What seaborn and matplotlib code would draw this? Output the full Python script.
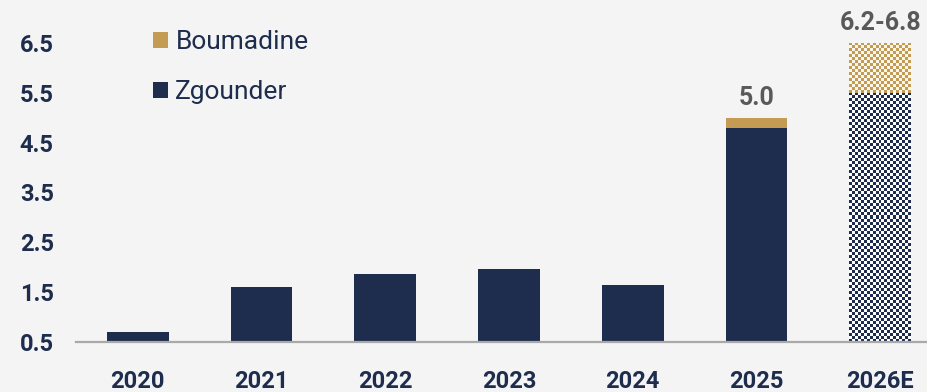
import numpy as np
import pandas as pd
import matplotlib
matplotlib.use("Agg")
import matplotlib.pyplot as plt
from matplotlib.colors import to_rgb
from matplotlib.patches import Patch
import seaborn as sns

# Silver production by mine (Moz)
years = ["2020", "2021", "2022", "2023", "2024", "2025", "2026E"]
zgounder = [0.71, 1.61, 1.87, 1.96, 1.64, 4.8, 5.5]
boumadine = [0.0, 0.0, 0.0, 0.0, 0.0, 0.2, 1.0]
bar_labels = ["", "", "", "", "", "5.0", "6.2-6.8"]
estimate = [False, False, False, False, False, False, True]
y_ticks = [0.5, 1.5, 2.5, 3.5, 4.5, 5.5, 6.5]

NAVY = "#1e2d4d"
GOLD = "#c39b53"
GREY = "#595959"
BG = "#f4f4f4"
AXIS = "#a9a9a9"

sns.set_theme(style="white")
plt.rcParams["font.family"] = ["Roboto", "DejaVu Sans"]

df = pd.DataFrame({"year": years, "Zgounder": zgounder, "Boumadine": boumadine})
df["total"] = df["Zgounder"] + df["Boumadine"]

fig = plt.figure(figsize=(9.28, 3.92), dpi=100, facecolor=BG)
ax = fig.add_axes([76 / 928, 1 - 342 / 392, 866 / 928, (342 - 18) / 392])
ax.set_facecolor(BG)

# Stacked bars: the total in gold, Zgounder drawn over it in navy
sns.barplot(data=df, x="year", y="total", color=GOLD, saturation=1, width=0.5,
            linewidth=0, ax=ax, zorder=2)
sns.barplot(data=df, x="year", y="Zgounder", color=NAVY, saturation=1, width=0.5,
            linewidth=0, ax=ax, zorder=3)

ax.set_xlim(-0.5, 6.5)
ax.set_ylim(0.5, 7.0)
ax.set_yticks(y_ticks)
ax.set_yticklabels([f"{t:.1f}" for t in y_ticks])
ax.set_xlabel("")
ax.set_ylabel("")

for s in ["top", "right", "left"]:
    ax.spines[s].set_visible(False)
ax.spines["bottom"].set_color(AXIS)
ax.spines["bottom"].set_linewidth(1.6)
ax.spines["bottom"].set_zorder(5)

ax.tick_params(axis="both", length=0, labelcolor=NAVY, labelsize=17)
ax.tick_params(axis="y", pad=16)
ax.tick_params(axis="x", pad=20)
for lab in ax.get_xticklabels() + ax.get_yticklabels():
    lab.set_fontweight("bold")


def checker_fill(patch, color, light="#ffffff", cell=3, z=4):
    """Fill a bar with a fine checkerboard pattern clipped to its shape."""
    bb = patch.get_bbox()
    y_lo = max(bb.y0, ax.get_ylim()[0])
    (px0, py0), (px1, py1) = ax.transData.transform([(bb.x0, y_lo), (bb.x1, bb.y1)])
    nx = max(int(round((px1 - px0) / cell)), 1)
    ny = max(int(round((py1 - py0) / cell)), 1)
    grid = np.add.outer(np.arange(ny), np.arange(nx)) % 2
    rgb = np.where(grid[..., None] == 0, np.array(to_rgb(color)), np.array(to_rgb(light)))
    im = ax.imshow(rgb, extent=(bb.x0, bb.x1, y_lo, bb.y1), interpolation="nearest",
                   aspect="auto", zorder=z, origin="upper")
    im.set_clip_path(patch)


gold_bars = ax.containers[0]
navy_bars = ax.containers[1]
for i, est in enumerate(estimate):
    if est:
        checker_fill(gold_bars[i], GOLD, light="#fbf6ec", z=3.5)
        checker_fill(navy_bars[i], NAVY, light="#ffffff", z=3.6)

ax.set_xlim(-0.5, 6.5)
ax.set_ylim(0.5, 7.0)

# Value labels above the bars
for i, txt in enumerate(bar_labels):
    if txt:
        ax.annotate(txt, xy=(i, df["total"][i]), xytext=(0, 5.5), textcoords="offset points",
                    ha="center", va="bottom", fontsize=18, fontweight="bold", color=GREY)

handles = [Patch(facecolor=GOLD, edgecolor="none", label="Boumadine"),
           Patch(facecolor=NAVY, edgecolor="none", label="Zgounder")]
fig.legend(handles=handles, loc="upper left", bbox_to_anchor=(153 / 928, 1 - 30 / 392),
           frameon=False, fontsize=19, labelcolor=NAVY, handlelength=0.55,
           handleheight=0.55, handletextpad=0.3, labelspacing=1.0,
           borderpad=0, borderaxespad=0)

fig.savefig("out.png", dpi=100, facecolor=BG)
